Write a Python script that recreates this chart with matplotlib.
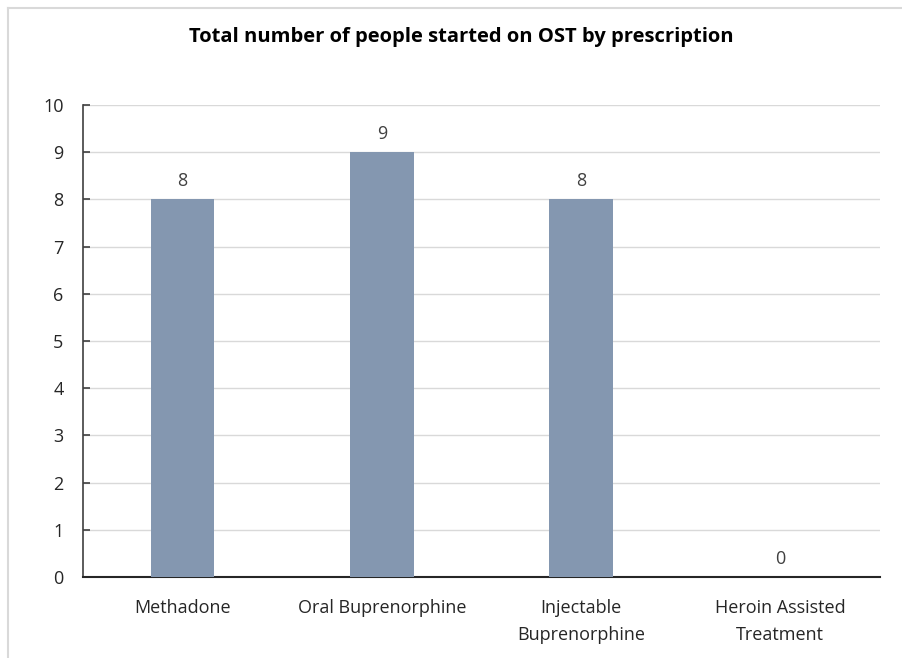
import matplotlib.pyplot as plt
from matplotlib.lines import Line2D

categories = ["Methadone", "Oral Buprenorphine", "Injectable\nBuprenorphine", "Heroin Assisted\nTreatment"]
values = [8, 9, 8, 0]
y_ticks = [0, 1, 2, 3, 4, 5, 6, 7, 8, 9, 10]

plt.rcParams["font.family"] = ["Open Sans", "DejaVu Sans"]

fig = plt.figure(figsize=(9.02, 6.58), dpi=100)
ax = fig.add_axes([0.092, 0.1231, 0.8836, 0.7173])

x = range(len(categories))
bars = ax.bar(x, values, width=0.32, color="#8497B0", zorder=3)

for xi, v in zip(x, values):
    ax.text(xi, v + 0.2, str(v), ha="center", va="bottom", fontsize=13, color="#404040")

ax.set_xlim(-0.5, len(categories) - 0.5)
ax.set_ylim(0, 10)
ax.set_yticks(y_ticks)
ax.set_xticks(list(x))
ax.set_xticklabels(categories, fontsize=13, color="#262626", linespacing=1.6)
ax.tick_params(axis="x", length=0, pad=16)
ax.tick_params(axis="y", direction="in", length=5, width=1.2, color="#404040",
               labelsize=13, labelcolor="#262626", pad=14)

ax.grid(axis="y", color="#D9D9D9", linewidth=1, zorder=0)
for s in ["top", "right"]:
    ax.spines[s].set_visible(False)
ax.spines["left"].set_color("#404040")
ax.spines["left"].set_linewidth(1.2)
ax.spines["bottom"].set_color("#262626")
ax.spines["bottom"].set_linewidth(1.5)

fig.text(0.511, 0.944, "Total number of people started on OST by prescription",
         ha="center", va="center", fontsize=14.5, fontweight="bold", color="#000000")

# outer chart frame (only top and left edges visible)
fig.add_artist(Line2D([0.009, 1.0], [0.988, 0.988], transform=fig.transFigure, color="#D9D9D9", linewidth=1.5))
fig.add_artist(Line2D([0.009, 0.009], [0.0, 0.988], transform=fig.transFigure, color="#D9D9D9", linewidth=1.5))

fig.savefig("out.png", dpi=100)
